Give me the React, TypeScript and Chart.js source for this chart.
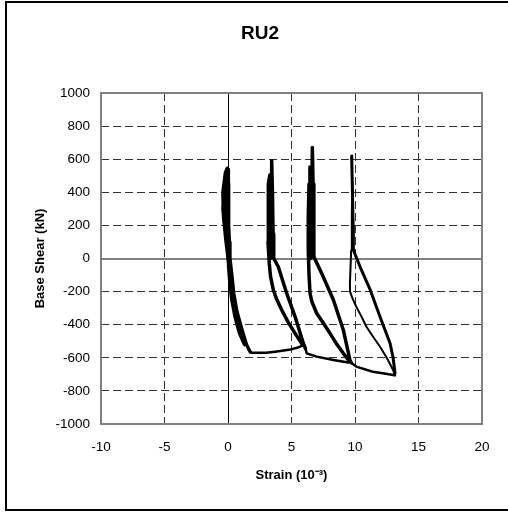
import React, { useEffect, useRef } from "react";
import { Chart, registerables } from "chart.js";

Chart.register(...registerables);

// Axis ticks
const xTicks = [-10, -5, 0, 5, 10, 15, 20];
const yTicks = [-1000, -800, -600, -400, -200, 0, 200, 400, 600, 800, 1000];

// Cycle 1 (around zero strain)
const cycle1Strain = [0.1, -0.15, -0.35, -0.4, -0.2, -0.05, 0.0, 0.05, 0.0, 0.1, 0.15, -0.2, -0.4, -0.3, -0.1, -0.05, -0.1, 0.0, 0.05, 0.15, 0.3, 0.55, 0.9, 1.3, 1.2, 0.8, 0.45, 0.2, 0.0, -0.25, -0.35, -0.1, 0.05, 0.05, 0.15, 0.3, 0.45, 0.7, 1.1, 1.45, 1.75];
const cycle1Shear = [-50, 100, 250, 400, 520, 545, 540, 400, 250, 100, 0, 150, 300, 450, 520, 500, 300, 150, -50, -150, -250, -350, -450, -520, -480, -380, -260, -130, 0, 200, 400, 540, 450, 200, 0, -100, -210, -320, -430, -520, -565];

// Transition from cycle 1 to cycle 2
const trans1Strain = [1.75, 1.9, 3.0, 3.7, 4.8, 5.5, 5.9];
const trans1Shear = [-565, -570, -569, -563, -552, -538, -525];

// Cycle 2
const cycle2Strain = [5.9, 5.28, 4.7, 4.23, 3.8, 3.57, 3.35, 3.25, 3.15, 3.15, 3.2, 3.3, 3.32, 3.32, 3.38, 3.4, 3.44, 3.5, 3.55, 3.6, 3.96, 4.62, 5.28, 5.93, 6.1];
const cycle2Shear = [-525, -452, -380, -311, -240, -190, -110, -30, 100, 300, 450, 505, 400, 200, 0, 300, 591, 400, 150, 0, -50, -210, -351, -512, -545];

// Transition from cycle 2 to cycle 3
const trans2Strain = [6.1, 6.2, 6.98, 8.3, 9.47, 9.6];
const trans2Shear = [-545, -573, -593, -613, -629, -625];

// Cycle 3
const cycle3Strain = [9.6, 9.08, 8.5, 8.03, 7.5, 6.98, 6.6, 6.46, 6.38, 6.32, 6.32, 6.38, 6.45, 6.52, 6.55, 6.52, 6.6, 6.64, 6.7, 6.75, 6.77, 7.38, 8.3, 9.08, 9.6, 9.7];
const cycle3Shear = [-625, -573, -510, -452, -390, -331, -260, -210, -100, 50, 250, 450, 553, 400, 200, 0, 300, 670, 450, 150, 11, -90, -251, -432, -613, -630];

// Transition from cycle 3 to cycle 4
const trans3Strain = [9.7, 10.1, 11.4, 12.3, 13.0, 13.15];
const trans3Shear = [-630, -653, -684, -695, -704, -706];

// Cycle 4 (reloading and unloading branches)
const cycle4UpStrain = [13.15, 13.0, 12.5, 11.97, 11.4, 10.9, 10.5, 10.1, 9.8, 9.61, 9.6, 9.65, 9.7, 9.75, 9.78, 9.74];
const cycle4UpShear = [-706, -674, -600, -533, -470, -412, -350, -291, -240, -200, -150, -50, 50, 250, 450, 619];
const cycle4DownStrain = [9.74, 9.8, 9.85, 9.87, 10.4, 11.2, 11.97, 12.76, 13.0, 13.15];
const cycle4DownShear = [619, 400, 200, 51, -50, -190, -352, -512, -600, -693];

const FONT = "Arial, 'Liberation Sans', sans-serif";

const pts = (xs: number[], ys: number[]) => xs.map((x, i) => ({ x, y: ys[i] }));

const seg = (xs: number[], ys: number[], w: number) => ({
  data: pts(xs, ys),
  borderColor: "#000",
  backgroundColor: "#000",
  borderWidth: w,
  pointRadius: 0,
  showLine: true,
  fill: false,
  tension: 0,
  borderJoinStyle: "round" as const,
  borderCapStyle: "round" as const,
});

const framePlugin = {
  id: "frame",
  beforeDatasetsDraw(chart: any) {
    const { ctx, chartArea, scales } = chart;
    const x0 = scales.x.getPixelForValue(0);
    const y0 = scales.y.getPixelForValue(0);
    ctx.save();
    ctx.setLineDash([]);
    // y = 0 line
    ctx.strokeStyle = "#808080";
    ctx.lineWidth = 2;
    ctx.beginPath();
    ctx.moveTo(chartArea.left, Math.round(y0));
    ctx.lineTo(chartArea.right, Math.round(y0));
    ctx.stroke();
    // x = 0 line
    ctx.strokeStyle = "#000";
    ctx.lineWidth = 1;
    ctx.beginPath();
    ctx.moveTo(Math.round(x0) + 0.5, chartArea.top);
    ctx.lineTo(Math.round(x0) + 0.5, chartArea.bottom);
    ctx.stroke();
    // plot border
    ctx.strokeStyle = "#808080";
    ctx.lineWidth = 2;
    ctx.strokeRect(
      Math.round(chartArea.left),
      Math.round(chartArea.top),
      Math.round(chartArea.right - chartArea.left),
      Math.round(chartArea.bottom - chartArea.top)
    );
    ctx.restore();
  },
};

export default function App() {
  const ref = useRef<HTMLCanvasElement | null>(null);

  useEffect(() => {
    if (!ref.current) return;
    const gridColor = (c: any) => {
      const v = c.tick ? c.tick.value : null;
      if (v === 0 || v === -10 || v === 20 || v === -1000 || v === 1000) return "rgba(0,0,0,0)";
      return "#333";
    };
    const chart = new Chart(ref.current, {
      type: "line",
      data: {
        datasets: [
          seg(cycle1Strain, cycle1Shear, 3.5),
          seg(trans1Strain, trans1Shear, 2.5),
          seg(cycle2Strain, cycle2Shear, 3.5),
          seg(trans2Strain, trans2Shear, 2.5),
          seg(cycle3Strain, cycle3Shear, 3.5),
          seg(trans3Strain, trans3Shear, 2.5),
          seg(cycle4UpStrain, cycle4UpShear, 2),
          seg(cycle4DownStrain, cycle4DownShear, 3),
        ] as any,
      },
      options: {
        animation: false,
        responsive: false,
        maintainAspectRatio: false,
        layout: { padding: { left: 12, right: 0, top: 0, bottom: 0 } },
        plugins: {
          legend: { display: false },
          tooltip: { enabled: false },
          title: {
            display: true,
            text: "RU2",
            color: "#000",
            font: { family: FONT, size: 19, weight: "bold" },
            padding: { top: 22, bottom: 48.2 },
          },
        },
        scales: {
          x: {
            type: "linear",
            min: xTicks[0],
            max: xTicks[xTicks.length - 1],
            afterBuildTicks: (s: any) => {
              s.ticks = xTicks.map((v) => ({ value: v }));
            },
            ticks: {
              color: "#000",
              font: { family: FONT, size: 13.5 },
              padding: 15,
              callback: (v: any) => String(v),
            },
            grid: { color: gridColor, lineWidth: 1, drawTicks: false },
            border: { display: false, dash: [8, 4] },
            title: {
              display: true,
              text: "Strain (10⁻³)",
              color: "#000",
              font: { family: FONT, size: 13, weight: "bold" },
              padding: { top: 0, bottom: 29.2 },
            },
            afterFit: (s: any) => {
              s.height = 88;
            },
          },
          y: {
            type: "linear",
            min: yTicks[0],
            max: yTicks[yTicks.length - 1],
            afterBuildTicks: (s: any) => {
              s.ticks = yTicks.map((v) => ({ value: v }));
            },
            ticks: {
              color: "#000",
              font: { family: FONT, size: 13.5 },
              padding: 11,
              callback: (v: any) => String(v),
            },
            grid: { color: gridColor, lineWidth: 1, drawTicks: false },
            border: { display: false, dash: [8, 4] },
            title: {
              display: true,
              text: "Base Shear (kN)",
              color: "#000",
              font: { family: FONT, size: 13, weight: "bold" },
              padding: { top: 20.2, bottom: 0 },
            },
            afterFit: (s: any) => {
              s.width = 89;
            },
          },
          y2: {
            type: "linear",
            position: "right",
            display: true,
            ticks: { display: false },
            grid: { display: false },
            border: { display: false },
            afterFit: (s: any) => {
              s.width = 26;
            },
          },
        },
      } as any,
      plugins: [framePlugin],
    });
    return () => chart.destroy();
  }, []);

  return (
    <div
      style={{
        position: "fixed",
        left: 0,
        top: 0,
        width: 508,
        height: 512,
        overflow: "hidden",
        background: "#fff",
      }}
    >
      <canvas ref={ref} width={508} height={512} style={{ display: "block", width: 508, height: 512 }} />
      <div
        style={{
          position: "absolute",
          left: 5,
          top: 1,
          width: 560,
          height: 510,
          border: "2px solid #000",
          boxSizing: "border-box",
          pointerEvents: "none",
        }}
      />
    </div>
  );
}
